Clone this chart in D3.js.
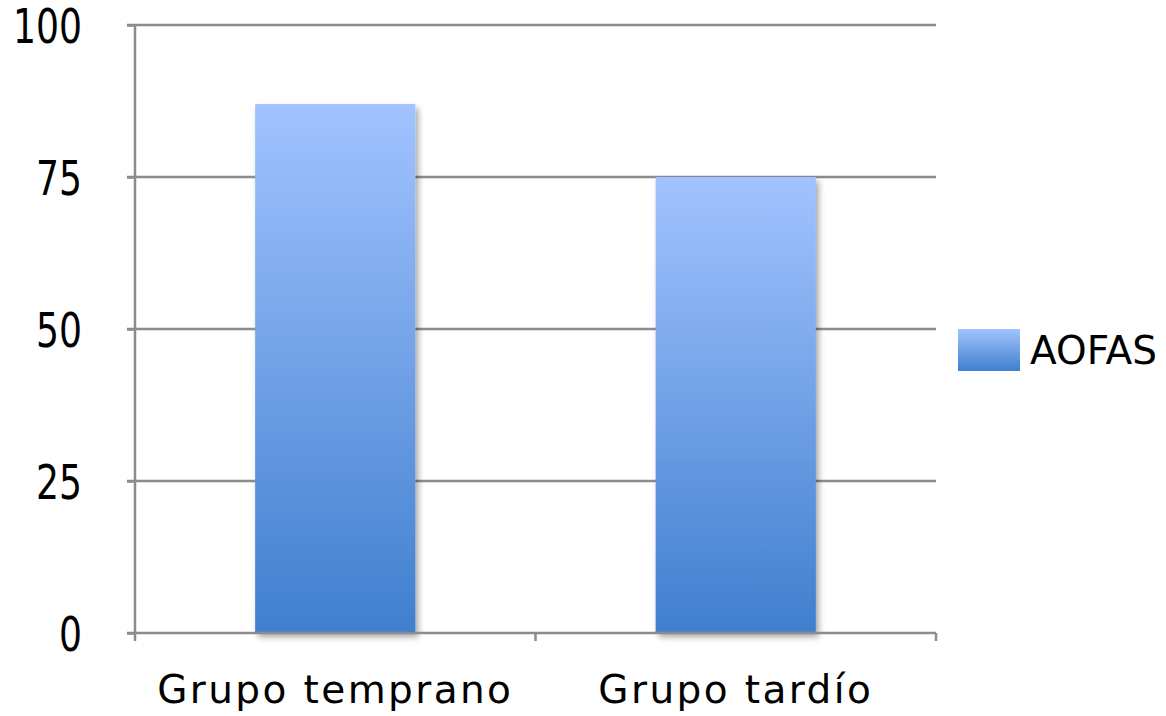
<!DOCTYPE html>
<html>
<head>
<meta charset="utf-8">
<script src="https://cdn.jsdelivr.net/npm/d3@7"></script>
<style>
  html, body { margin: 0; padding: 0; background: #fff; }
  svg { display: block; }
  text { font-family: "DejaVu Sans", Verdana, sans-serif; fill: #000; }
</style>
</head>
<body>
<svg id="chart" width="1166" height="716"></svg>
<script>
// Puntuación AOFAS media por grupo
const categories = ["Grupo temprano", "Grupo tardío"];
const aofas = [87, 75];
const yTicks = [0, 25, 50, 75, 100];
const seriesName = "AOFAS";

const svg = d3.select("#chart");
const plot = { left: 135, right: 936, top: 25, bottom: 633 };

const x = d3.scaleBand().domain(categories).range([plot.left, plot.right]).padding(0);
const y = d3.scaleLinear().domain([0, 100]).range([plot.bottom, plot.top]);

const defs = svg.append("defs");
const grad = defs.append("linearGradient")
  .attr("id", "barFill").attr("x1", 0).attr("y1", 0).attr("x2", 0).attr("y2", 1);
grad.append("stop").attr("offset", "0%").attr("stop-color", "#a2c3ff");
grad.append("stop").attr("offset", "100%").attr("stop-color", "#3f7fce");

const shadow = defs.append("filter").attr("id", "shadow")
  .attr("x", "-10%").attr("y", "-10%").attr("width", "130%").attr("height", "130%");
shadow.append("feGaussianBlur").attr("in", "SourceAlpha").attr("stdDeviation", 3).attr("result", "blur");
shadow.append("feOffset").attr("in", "blur").attr("dx", 3).attr("dy", 4).attr("result", "off");
shadow.append("feComponentTransfer").attr("in", "off").attr("result", "soft")
  .append("feFuncA").attr("type", "linear").attr("slope", 0.35);
const merge = shadow.append("feMerge");
merge.append("feMergeNode").attr("in", "soft");
merge.append("feMergeNode").attr("in", "SourceGraphic");

const gridColor = "#8c8c8c";

// horizontal gridlines
svg.append("g")
  .selectAll("line")
  .data(yTicks.filter(d => d > 0))
  .join("line")
  .attr("x1", plot.left - 8).attr("x2", plot.right)
  .attr("y1", d => y(d)).attr("y2", d => y(d))
  .attr("stroke", gridColor).attr("stroke-width", 2.5);

// bars
const barW = x.bandwidth() * 0.4;
svg.append("g")
  .selectAll("rect")
  .data(categories.map((c, i) => ({ c, v: aofas[i] })))
  .join("rect")
  .attr("x", d => x(d.c) + (x.bandwidth() - barW) / 2)
  .attr("width", barW)
  .attr("y", d => y(d.v))
  .attr("height", d => y(0) - y(d.v))
  .attr("fill", "url(#barFill)")
  .attr("filter", "url(#shadow)");

// y axis (tall, narrow numerals)
const yAxis = svg.append("g")
  .attr("transform", `translate(${plot.left},0)`)
  .call(d3.axisLeft(y).tickValues(yTicks).tickSize(8).tickPadding(45).tickFormat(d3.format("d")));
yAxis.select(".domain").attr("stroke", gridColor).attr("stroke-width", 2.5).attr("d", `M0,${plot.top}V${plot.bottom}`);
yAxis.selectAll(".tick line").attr("stroke", gridColor).attr("stroke-width", 2.5);
yAxis.selectAll(".tick text")
  .attr("font-size", 48)
  .attr("font-family", "DejaVu Sans")
  .attr("fill", "#000")
  .attr("textLength", d => String(d).length * 23)
  .attr("lengthAdjust", "spacingAndGlyphs")
  .attr("dy", "0.364em");

// x axis
const xAxis = svg.append("g")
  .attr("transform", `translate(0,${plot.bottom})`)
  .call(d3.axisBottom(x).tickSize(0).tickPadding(0));
xAxis.select(".domain").attr("stroke", gridColor).attr("stroke-width", 2.5).attr("d", `M${plot.left - 8},0H${plot.right}`);
xAxis.selectAll(".tick text")
  .attr("font-size", 39).attr("font-family", "DejaVu Sans").attr("fill", "#000")
  .attr("letter-spacing", "2.4px")
  .attr("y", 70).attr("dy", 0);
// category separator ticks
svg.append("g")
  .selectAll("line")
  .data([...categories.map(c => x(c)), plot.right])
  .join("line")
  .attr("x1", d => d).attr("x2", d => d)
  .attr("y1", plot.bottom).attr("y2", plot.bottom + 8)
  .attr("stroke", gridColor).attr("stroke-width", 2.5);

// legend
const legend = svg.append("g").attr("transform", "translate(958,329)");
legend.append("rect").attr("width", 62).attr("height", 42).attr("fill", "url(#barFill)");
legend.append("text").attr("x", 72).attr("y", 21).attr("dy", "0.36em")
  .attr("font-size", 39).text(seriesName);
</script>
</body>
</html>
